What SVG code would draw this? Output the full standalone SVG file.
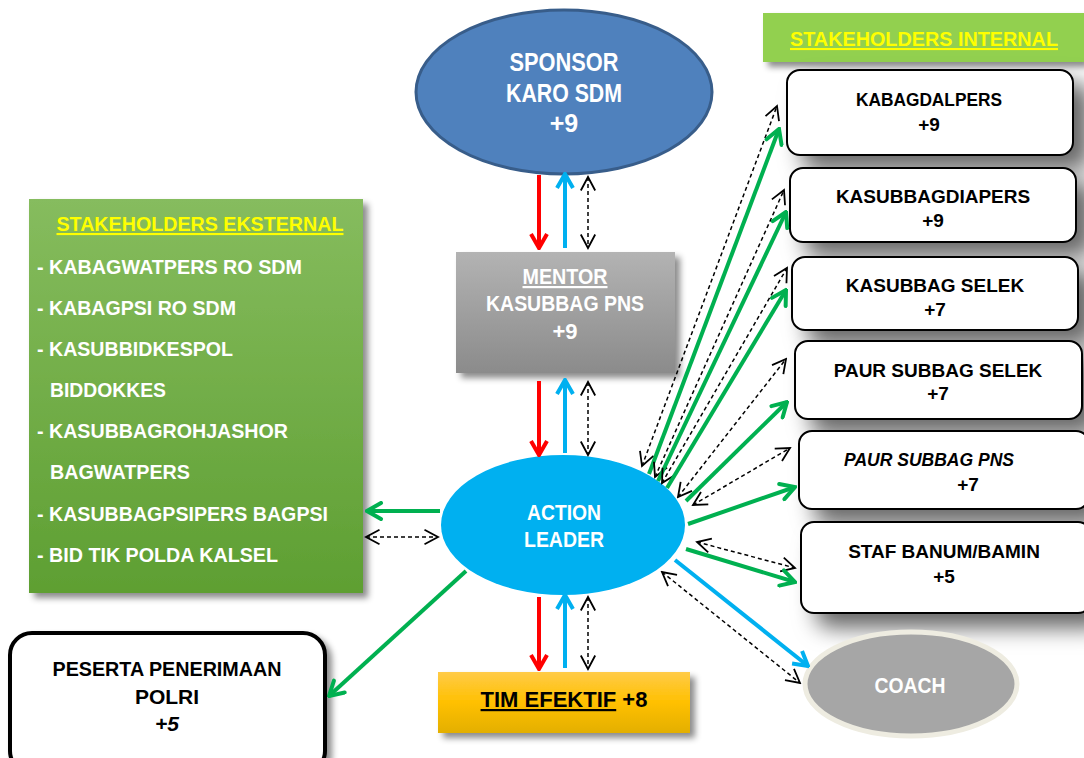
<svg xmlns="http://www.w3.org/2000/svg" width="1084" height="758" viewBox="0 0 1084 758">
<defs>
<style>
.t{font-family:"Liberation Sans Narrow","Liberation Sans",Arial,sans-serif;font-weight:bold}
.w{fill:#fff}
.k{fill:#000}
.y{fill:#FFFF00}
.ibox{fill:#fff;stroke:#000;stroke-width:2}
.g{stroke:#00B050;stroke-width:4;fill:none}
.r{stroke:#FF0000;stroke-width:4;fill:none}
.b{stroke:#00B0F0;stroke-width:4;fill:none}
.d{stroke:#000;stroke-width:1.5;stroke-dasharray:4 3;fill:none}
</style>
<linearGradient id="gEks" x1="0" y1="0" x2="0" y2="1"><stop offset="0" stop-color="#86BC5E"/><stop offset="1" stop-color="#5E9F32"/></linearGradient>
<linearGradient id="gMen" x1="0" y1="0" x2="0" y2="1"><stop offset="0" stop-color="#B3B3B3"/><stop offset="1" stop-color="#8B8B8B"/></linearGradient>
<linearGradient id="gTim" x1="0" y1="0" x2="0" y2="1"><stop offset="0" stop-color="#FFCB48"/><stop offset="0.5" stop-color="#FFC000"/><stop offset="1" stop-color="#E3AF00"/></linearGradient>
<filter id="sh" x="-20%" y="-20%" width="150%" height="160%"><feDropShadow dx="5" dy="5" stdDeviation="3" flood-color="#000" flood-opacity="0.45"/></filter>
<filter id="shBig" x="-20%" y="-30%" width="160%" height="190%"><feDropShadow dx="16" dy="14" stdDeviation="11" flood-color="#000" flood-opacity="0.6"/></filter>
<marker id="mG" viewBox="0 0 20 20" refX="18" refY="10" markerWidth="20" markerHeight="20" markerUnits="userSpaceOnUse" orient="auto-start-reverse"><path d="M4,2 L18,10 L4,18" fill="none" stroke="#00B050" stroke-width="4" stroke-linecap="round"/></marker>
<marker id="mR" viewBox="0 0 20 20" refX="18" refY="10" markerWidth="20" markerHeight="20" markerUnits="userSpaceOnUse" orient="auto-start-reverse"><path d="M4,2 L18,10 L4,18" fill="none" stroke="#FF0000" stroke-width="4"/></marker>
<marker id="mB" viewBox="0 0 20 20" refX="18" refY="10" markerWidth="20" markerHeight="20" markerUnits="userSpaceOnUse" orient="auto-start-reverse"><path d="M4,2 L18,10 L4,18" fill="none" stroke="#00B0F0" stroke-width="4"/></marker>
<marker id="mD" viewBox="0 0 20 20" refX="18" refY="10" markerWidth="18" markerHeight="18" markerUnits="userSpaceOnUse" orient="auto-start-reverse"><path d="M3,2 L18,10 L3,18" fill="none" stroke="#000" stroke-width="2"/></marker>
</defs>
<rect width="1084" height="758" fill="#fff"/>

<g id="stakeholders-internal-header">
<rect x="763" y="13" width="321" height="49" fill="#92D050" filter="url(#sh)"/>
<text class="t y" x="924" y="46" font-size="21" text-anchor="middle" textLength="268" lengthAdjust="spacingAndGlyphs" text-decoration="underline">STAKEHOLDERS INTERNAL</text>
</g>

<g id="kabagdalpers">
<rect class="ibox" x="787" y="70" width="286" height="85" rx="13" filter="url(#shBig)"/>
<text class="t k" x="929" y="106" font-size="19" text-anchor="middle" textLength="146" lengthAdjust="spacingAndGlyphs">KABAGDALPERS</text>
<text class="t k" x="929" y="131" font-size="19" text-anchor="middle">+9</text>
</g>
<g id="kasubbagdiapers">
<rect class="ibox" x="790" y="168" width="286" height="74" rx="13" filter="url(#shBig)"/>
<text class="t k" x="933" y="203" font-size="19" text-anchor="middle">KASUBBAGDIAPERS</text>
<text class="t k" x="933" y="227" font-size="19" text-anchor="middle">+9</text>
</g>
<g id="kasubbag-selek">
<rect class="ibox" x="792" y="257" width="286" height="73" rx="13" filter="url(#shBig)"/>
<text class="t k" x="935" y="292" font-size="19" text-anchor="middle">KASUBBAG SELEK</text>
<text class="t k" x="935" y="316" font-size="19" text-anchor="middle">+7</text>
</g>
<g id="paur-subbag-selek">
<rect class="ibox" x="795" y="341" width="287" height="78" rx="13" filter="url(#shBig)"/>
<text class="t k" x="938" y="377" font-size="19" text-anchor="middle">PAUR SUBBAG SELEK</text>
<text class="t k" x="938" y="400" font-size="19" text-anchor="middle">+7</text>
</g>
<g id="paur-subbag-pns">
<rect class="ibox" x="799" y="431" width="290" height="78" rx="13" filter="url(#shBig)"/>
<text class="t k" x="844" y="466" font-size="19" font-style="italic" textLength="170" lengthAdjust="spacingAndGlyphs">PAUR SUBBAG PNS</text>
<text class="t k" x="968" y="491" font-size="19" text-anchor="middle">+7</text>
</g>
<g id="staf-banum-bamin">
<rect class="ibox" x="801" y="522" width="290" height="91" rx="13" filter="url(#shBig)"/>
<text class="t k" x="944" y="558" font-size="19" text-anchor="middle">STAF BANUM/BAMIN</text>
<text class="t k" x="944" y="583" font-size="19" text-anchor="middle">+5</text>
</g>
<g id="coach">
<ellipse cx="911" cy="684" rx="106" ry="52" fill="#A6A6A6" stroke="#EEECE1" stroke-width="5"/>
<text class="t w" x="910" y="693" font-size="22" text-anchor="middle" textLength="71" lengthAdjust="spacingAndGlyphs">COACH</text>
</g>

<g id="sponsor">
<ellipse cx="564" cy="92" rx="148" ry="82" fill="#4F81BD" stroke="#385D8A" stroke-width="3"/>
<text class="t w" x="564" y="71" font-size="25" text-anchor="middle" textLength="109" lengthAdjust="spacingAndGlyphs">SPONSOR</text>
<text class="t w" x="564" y="102" font-size="25" text-anchor="middle" textLength="116" lengthAdjust="spacingAndGlyphs">KARO SDM</text>
<text class="t w" x="564" y="132" font-size="25" text-anchor="middle">+9</text>
</g>

<g id="mentor">
<rect x="456" y="252" width="219" height="121" fill="url(#gMen)" filter="url(#sh)"/>
<text class="t w" x="565" y="284" font-size="22" text-anchor="middle" textLength="85" lengthAdjust="spacingAndGlyphs" text-decoration="underline">MENTOR</text>
<text class="t w" x="565" y="311" font-size="22" text-anchor="middle" textLength="158" lengthAdjust="spacingAndGlyphs">KASUBBAG PNS</text>
<text class="t w" x="565" y="339" font-size="22" text-anchor="middle">+9</text>
</g>

<g id="action-leader">
<ellipse cx="563" cy="525" rx="122" ry="70" fill="#00B0F0"/>
<text class="t w" x="564" y="520" font-size="22" text-anchor="middle" textLength="74" lengthAdjust="spacingAndGlyphs">ACTION</text>
<text class="t w" x="564" y="547" font-size="22" text-anchor="middle" textLength="80" lengthAdjust="spacingAndGlyphs">LEADER</text>
</g>

<g id="tim-efektif">
<rect x="438" y="672" width="252" height="61" fill="url(#gTim)" filter="url(#sh)"/>
<text class="t k" x="564" y="707" font-size="22" text-anchor="middle"><tspan text-decoration="underline">TIM EFEKTIF</tspan> +8</text>
</g>

<g id="stakeholders-eksternal">
<rect x="29" y="199" width="334" height="394" fill="url(#gEks)" filter="url(#sh)"/>
<text class="t y" x="200" y="231" font-size="21" text-anchor="middle" textLength="287" lengthAdjust="spacingAndGlyphs" text-decoration="underline">STAKEHOLDERS EKSTERNAL</text>
<g class="t w" font-size="21">
<text x="37" y="274" textLength="265" lengthAdjust="spacingAndGlyphs">- KABAGWATPERS RO SDM</text>
<text x="37" y="315" textLength="199" lengthAdjust="spacingAndGlyphs">- KABAGPSI RO SDM</text>
<text x="37" y="356" textLength="196" lengthAdjust="spacingAndGlyphs">- KASUBBIDKESPOL</text>
<text x="50" y="397" textLength="116" lengthAdjust="spacingAndGlyphs">BIDDOKKES</text>
<text x="37" y="438" textLength="251" lengthAdjust="spacingAndGlyphs">- KASUBBAGROHJASHOR</text>
<text x="50" y="479" textLength="140" lengthAdjust="spacingAndGlyphs">BAGWATPERS</text>
<text x="37" y="521" textLength="291" lengthAdjust="spacingAndGlyphs">- KASUBBAGPSIPERS BAGPSI</text>
<text x="37" y="562" textLength="241" lengthAdjust="spacingAndGlyphs">- BID TIK POLDA KALSEL</text>
</g>
</g>

<g id="peserta-penerimaan-polri">
<rect x="10" y="633" width="315" height="140" rx="22" fill="#fff" stroke="#000" stroke-width="4" filter="url(#sh)"/>
<text class="t k" x="167" y="676" font-size="21" text-anchor="middle" textLength="229" lengthAdjust="spacingAndGlyphs">PESERTA PENERIMAAN</text>
<text class="t k" x="167" y="704" font-size="21" text-anchor="middle">POLRI</text>
<text class="t k" x="167" y="731" font-size="21" text-anchor="middle" font-style="italic">+5</text>
</g>

<g id="connectors">
<line class="r" x1="539" y1="175" x2="539" y2="248" marker-end="url(#mR)"/>
<line class="b" x1="565" y1="248" x2="565" y2="174" marker-end="url(#mB)"/>
<line class="d" x1="588" y1="177" x2="588" y2="248" marker-start="url(#mD)" marker-end="url(#mD)"/>
<line class="r" x1="539" y1="381" x2="539" y2="455" marker-end="url(#mR)"/>
<line class="b" x1="565" y1="453" x2="565" y2="380" marker-end="url(#mB)"/>
<line class="d" x1="588" y1="382" x2="588" y2="455" marker-start="url(#mD)" marker-end="url(#mD)"/>
<line class="r" x1="539" y1="597" x2="539" y2="669" marker-end="url(#mR)"/>
<line class="b" x1="565" y1="668" x2="565" y2="595" marker-end="url(#mB)"/>
<line class="d" x1="588" y1="597" x2="588" y2="669" marker-start="url(#mD)" marker-end="url(#mD)"/>
<line class="g" x1="440" y1="511" x2="367" y2="511" marker-end="url(#mG)"/>
<line class="d" x1="366" y1="537" x2="438" y2="537" marker-start="url(#mD)" marker-end="url(#mD)"/>
<line class="g" x1="466" y1="571" x2="329" y2="696" marker-end="url(#mG)"/>
<line class="d" x1="642" y1="466" x2="777" y2="106" marker-start="url(#mD)" marker-end="url(#mD)"/>
<line class="g" x1="649" y1="474" x2="779" y2="129" marker-end="url(#mG)"/>
<line class="d" x1="655" y1="477" x2="784" y2="190" marker-start="url(#mD)" marker-end="url(#mD)"/>
<line class="g" x1="658" y1="481" x2="786" y2="212" marker-end="url(#mG)"/>
<line class="d" x1="662" y1="483" x2="787" y2="268" marker-start="url(#mD)" marker-end="url(#mD)"/>
<line class="g" x1="667" y1="488" x2="786" y2="290" marker-end="url(#mG)"/>
<line class="d" x1="678" y1="497" x2="786" y2="359" marker-start="url(#mD)" marker-end="url(#mD)"/>
<line class="g" x1="686" y1="501" x2="787" y2="402" marker-end="url(#mG)"/>
<line class="d" x1="693" y1="505" x2="790" y2="448" marker-start="url(#mD)" marker-end="url(#mD)"/>
<line class="g" x1="688" y1="524" x2="795" y2="487" marker-end="url(#mG)"/>
<line class="d" x1="697" y1="542" x2="795" y2="568" marker-start="url(#mD)" marker-end="url(#mD)"/>
<line class="g" x1="686" y1="549" x2="795" y2="582" marker-end="url(#mG)"/>
<line class="b" x1="675" y1="560" x2="808" y2="666" marker-end="url(#mB)"/>
<line class="d" x1="662" y1="572" x2="800" y2="683" marker-start="url(#mD)" marker-end="url(#mD)"/>
</g>
</svg>
